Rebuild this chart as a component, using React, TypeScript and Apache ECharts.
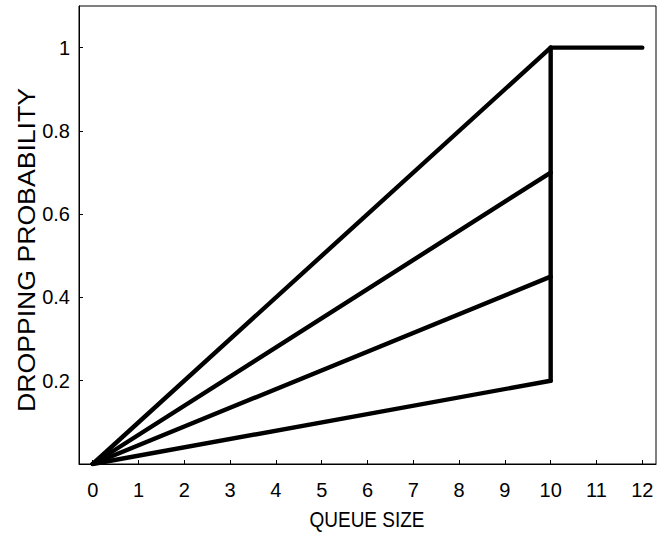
import React, { useEffect, useRef } from "react";
import * as echarts from "echarts";

// Queue-size axis ticks and dropping-probability ticks
const xTicks = [0, 1, 2, 3, 4, 5, 6, 7, 8, 9, 10, 11, 12];
const yTicks = [0.2, 0.4, 0.6, 0.8, 1];

// Maximum dropping probability reached at the threshold queue size for each profile
const thresholdQueue = 10;
const maxQueue = 12;
const maxProbs = [1, 0.7, 0.45, 0.2];

const FONT = "Liberation Sans, Arial, sans-serif";

export default function App() {
  const ref = useRef<HTMLDivElement>(null);

  useEffect(() => {
    if (!ref.current) return;
    const chart = echarts.init(ref.current, null, { renderer: "svg" });

    const lineStyle = { color: "#000", width: 4.4, cap: "round" as const, join: "round" as const };

    const ramps = maxProbs.map((p, i) => ({
      name: `ramp${i}`,
      type: "line",
      data: [
        [0, 0],
        [thresholdQueue, p],
      ],
      showSymbol: false,
      lineStyle,
      silent: true,
    }));

    const minP = Math.min(...maxProbs);
    const maxP = Math.max(...maxProbs);

    chart.setOption({
      animation: false,
      backgroundColor: "#fff",
      grid: {
        left: 79,
        right: 14,
        top: 6,
        bottom: 71,
        show: true,
        borderColor: "#000",
        borderWidth: 1,
        backgroundColor: "transparent",
      },
      xAxis: {
        type: "value",
        min: -0.3,
        max: 12.3,
        axisLine: { show: true, onZero: false, lineStyle: { color: "#000", width: 1 } },
        splitLine: { show: false },
        axisTick: {
          show: true,
          inside: true,
          length: 4,
          customValues: xTicks,
          lineStyle: { color: "#000", width: 1 },
        },
        axisLabel: {
          customValues: xTicks,
          margin: 16,
          color: "#000",
          fontSize: 20,
          fontFamily: FONT,
        },
      },
      yAxis: {
        type: "value",
        min: 0,
        max: 1.1,
        axisLine: { show: true, onZero: false, lineStyle: { color: "#000", width: 1 } },
        splitLine: { show: false },
        axisTick: {
          show: true,
          inside: true,
          length: 4,
          customValues: yTicks,
          lineStyle: { color: "#000", width: 1 },
        },
        axisLabel: {
          customValues: yTicks,
          margin: 9,
          color: "#000",
          fontSize: 20,
          fontFamily: FONT,
        },
      },
      graphic: [
        {
          type: "text",
          x: 367,
          y: 519,
          scaleY: 1.2,
          style: {
            text: "QUEUE SIZE",
            fill: "#000",
            font: `19px ${FONT}`,
            textAlign: "center",
            textVerticalAlign: "middle",
          },
        },
        {
          type: "text",
          x: 26,
          y: 250,
          rotation: Math.PI / 2,
          scaleX: 1.11,
          style: {
            text: "DROPPING PROBABILITY",
            fill: "#000",
            font: `24px ${FONT}`,
            textAlign: "center",
            textVerticalAlign: "middle",
          },
        },
      ],
      series: [
        ...ramps,
        {
          name: "jump",
          type: "line",
          data: [
            [thresholdQueue, minP],
            [thresholdQueue, maxP],
          ],
          showSymbol: false,
          lineStyle,
          silent: true,
        },
        {
          name: "saturated",
          type: "line",
          data: [
            [thresholdQueue, maxP],
            [maxQueue, maxP],
          ],
          showSymbol: false,
          lineStyle,
          silent: true,
        },
      ],
    });

    return () => chart.dispose();
  }, []);

  return <div ref={ref} style={{ width: 670, height: 535, position: "absolute", left: 0, top: 0 }} />;
}
